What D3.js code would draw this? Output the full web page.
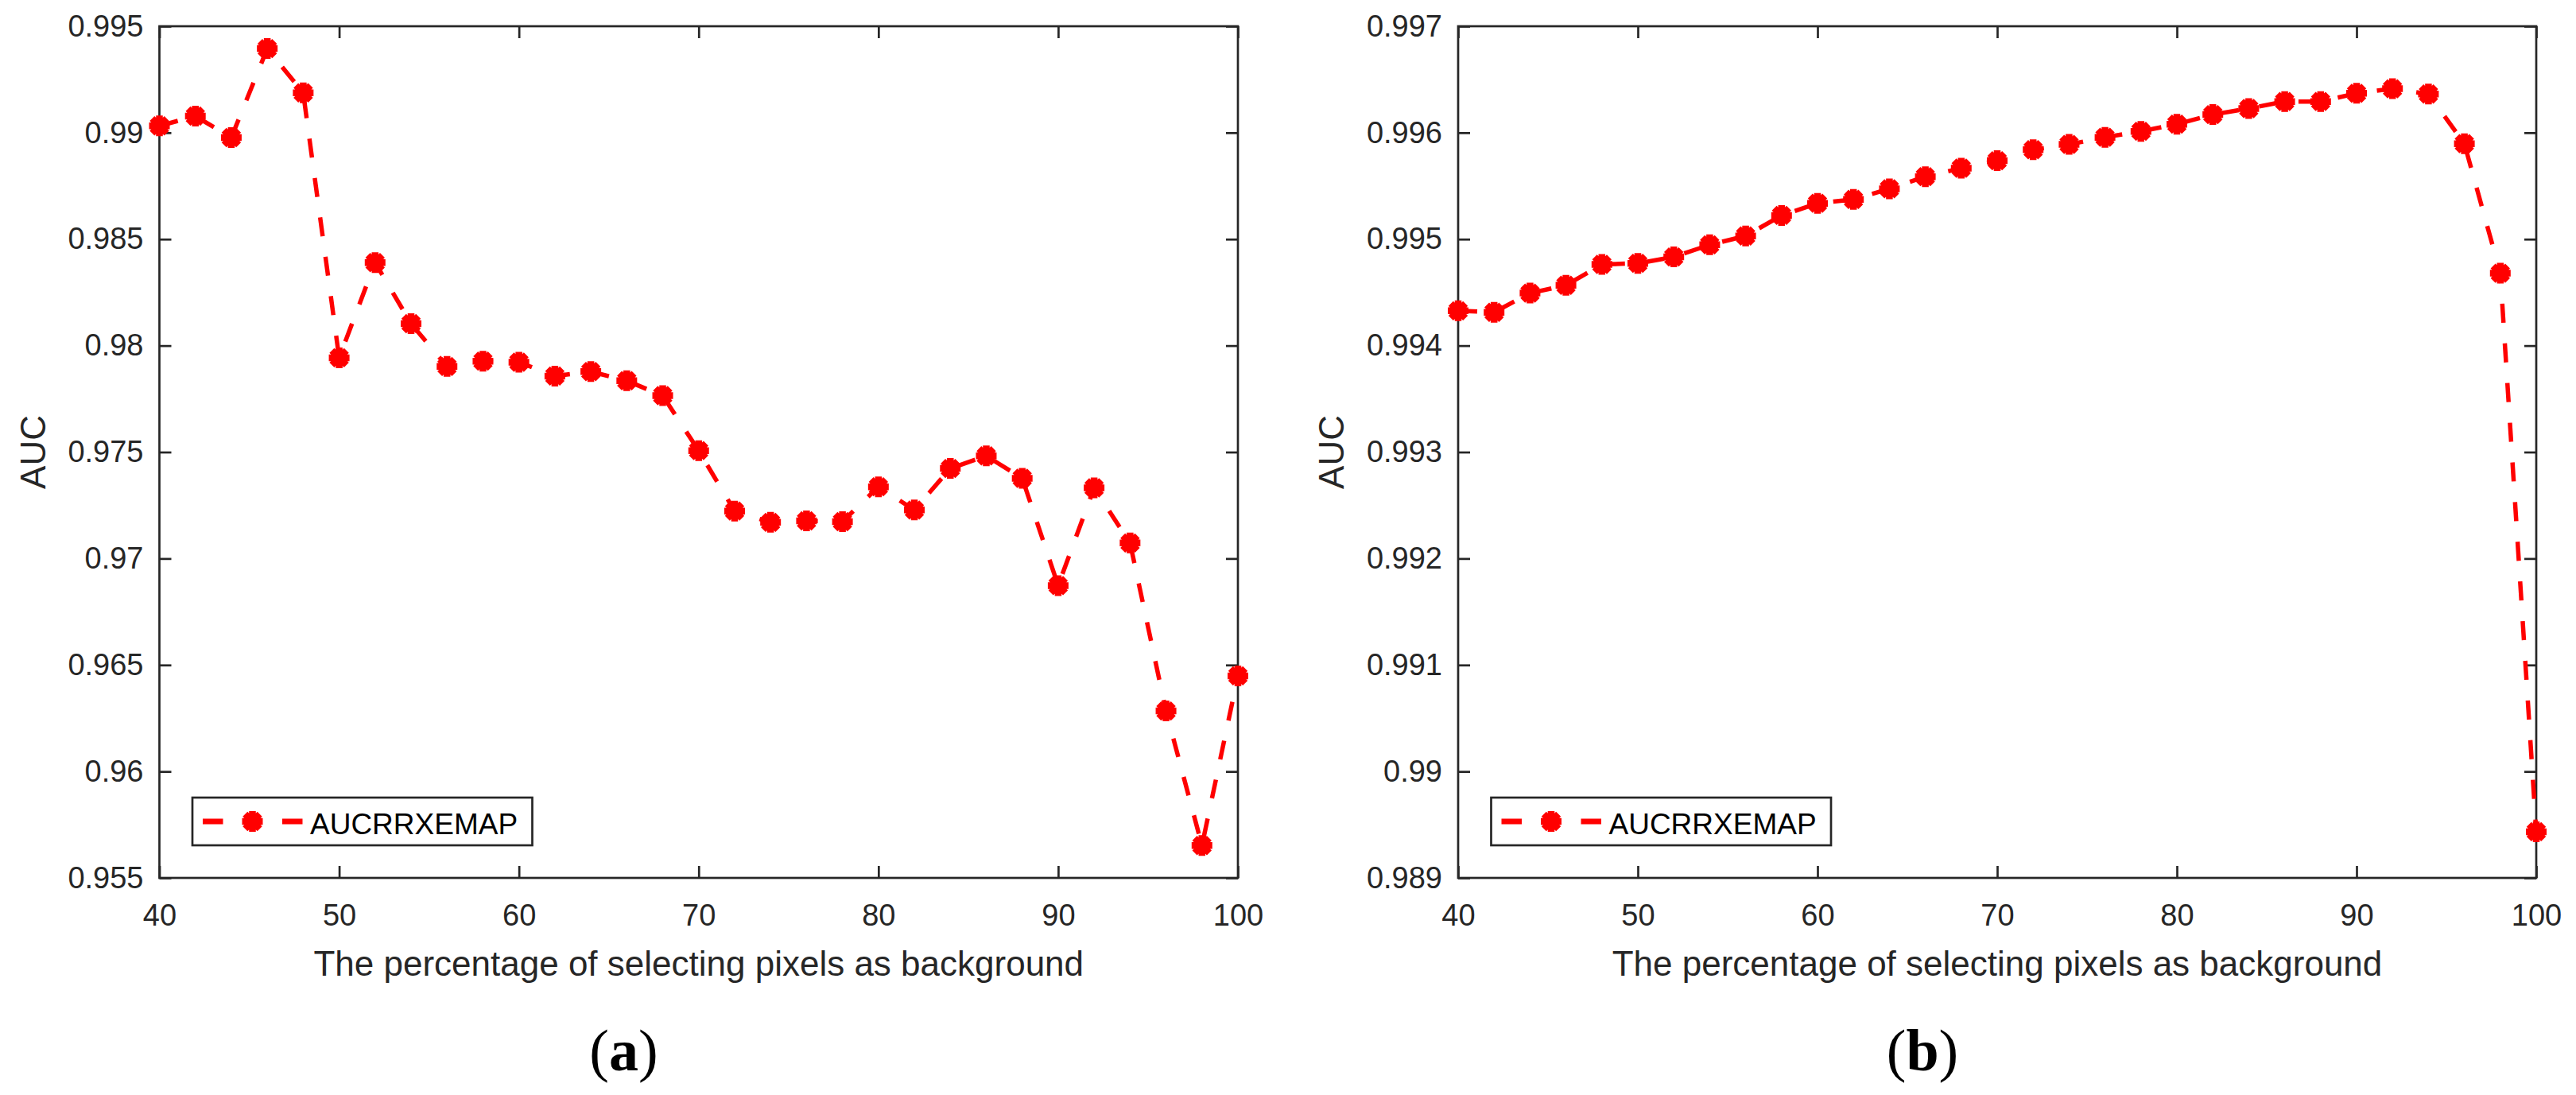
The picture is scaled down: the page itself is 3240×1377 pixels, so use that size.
<!DOCTYPE html>
<html>
<head>
<meta charset="utf-8">
<script src="https://cdn.jsdelivr.net/npm/d3@7"></script>
<style>
  html, body { margin: 0; padding: 0; background: #fff; }
  svg { display: block; }
</style>
</head>
<body>
<svg id="chart" width="3240" height="1377"></svg>
<script>
// ---------------- data ----------------
const percentages = [40,42,44,46,48,50,52,54,56,58,60,62,64,66,68,70,72,74,76,78,80,82,84,86,88,90,92,94,96,98,100];

const aucA = [0.99032,0.99078,0.98977,0.99395,0.99187,0.97943,0.98390,0.98103,0.97902,0.97927,
              0.97922,0.97857,0.97878,0.97835,0.97765,0.97507,0.97223,0.97170,0.97177,0.97173,
              0.97337,0.97228,0.97423,0.97482,0.97377,0.96873,0.97332,0.97073,0.96284,0.95652,0.96449];

const aucB = [0.994327,0.994313,0.994493,0.994567,0.994763,0.994773,0.994833,0.994947,0.995030,0.995223,
              0.995337,0.995373,0.995473,0.995587,0.995667,0.995737,0.995840,0.995890,0.995957,0.996013,
              0.996080,0.996170,0.996227,0.996293,0.996293,0.996370,0.996413,0.996363,0.995897,0.994680,0.989434];

const xTicks = [40,50,60,70,80,90,100];
const yTicksA = [0.955,0.96,0.965,0.97,0.975,0.98,0.985,0.99,0.995];
const yTicksB = [0.989,0.99,0.991,0.992,0.993,0.994,0.995,0.996,0.997];
const xDomain = [40,100];
const yDomainA = [0.955,0.995];
const yDomainB = [0.989,0.997];

const seriesName = "AUCRRXEMAP";
const xTitle = "The percentage of selecting pixels as background";
const yTitle = "AUC";
const panelLabels = ["a","b"];

// ---------------- drawing ----------------
const svg = d3.select("#chart");
svg.append("rect").attr("width",3240).attr("height",1377).attr("fill","#fff");

const AX = "#262626";
const RED = "#ff0000";
const FONT = "'Liberation Sans', Arial, Helvetica, sans-serif";

function asterisk(g, x, y) {
  const r = 13;
  const d = [];
  for (let k = 0; k < 4; k++) {
    const a = k * Math.PI / 4;
    const dx = r * Math.cos(a), dy = r * Math.sin(a);
    d.push(`M${x-dx},${y-dy}L${x+dx},${y+dy}`);
  }
  g.append("path").attr("d", d.join("")).attr("stroke", RED)
    .attr("stroke-width", 8.5).attr("fill", "none");
}

function panel(opts) {
  const {left, right, top, bottom, yDomain, yTicks, values, label} = opts;
  const x = d3.scaleLinear().domain(xDomain).range([left, right]);
  const y = d3.scaleLinear().domain(yDomain).range([bottom, top]);
  const g = svg.append("g");

  // axes
  const styleAxis = sel => {
    sel.select(".domain").remove();
    sel.selectAll(".tick line").attr("stroke", AX).attr("stroke-width", 2.7);
    sel.selectAll(".tick text").attr("fill", AX).attr("font-family", FONT).attr("font-size", 38);
  };
  g.append("g").attr("transform", `translate(0,${bottom})`)
    .call(d3.axisBottom(x).tickValues(xTicks).tickSize(-15).tickPadding(33).tickFormat(d => String(d)))
    .call(styleAxis);
  g.append("g").attr("transform", `translate(0,${top})`)
    .call(d3.axisTop(x).tickValues(xTicks).tickSize(-15).tickFormat(""))
    .call(styleAxis);
  g.append("g").attr("transform", `translate(${left},0)`)
    .call(d3.axisLeft(y).tickValues(yTicks).tickSize(-15).tickPadding(20).tickFormat(d => String(d)))
    .call(styleAxis);
  g.append("g").attr("transform", `translate(${right},0)`)
    .call(d3.axisRight(y).tickValues(yTicks).tickSize(-15).tickFormat(""))
    .call(styleAxis);

  g.append("rect").attr("x", left).attr("y", top).attr("width", right-left).attr("height", bottom-top)
    .attr("fill", "none").attr("stroke", AX).attr("stroke-width", 2.7);

  // line
  const pts = percentages.map((p,i) => [p, values[i]]);
  const line = d3.line().x(d => x(d[0])).y(d => y(d[1])).curve(d3.curveLinear);
  g.append("path").datum(pts).attr("d", line).attr("fill","none")
    .attr("stroke", RED).attr("stroke-width", 5.5).attr("stroke-dasharray", "24,26");
  const mk = g.append("g");
  pts.forEach(d => asterisk(mk, x(d[0]), y(d[1])));

  // axis titles
  g.append("text").attr("x", (left+right)/2).attr("y", 1227).attr("text-anchor","middle")
    .attr("font-family", FONT).attr("font-size", 44).attr("fill", AX).text(xTitle);
  g.append("text").attr("transform", `translate(${left-144},${(top+bottom)/2}) rotate(-90)`)
    .attr("text-anchor","middle").attr("font-family", FONT).attr("font-size", 44).attr("fill", AX).text(yTitle);

  // legend
  const lx = left + 41.5, ly = 1003, lw = 427.5, lh = 60;
  const lg = g.append("g");
  lg.append("rect").attr("x", lx).attr("y", ly).attr("width", lw).attr("height", lh)
    .attr("fill", "#fff").attr("stroke", AX).attr("stroke-width", 2.7);
  const cy = ly + 30;
  lg.append("line").attr("x1", lx+13).attr("x2", lx+138.5).attr("y1", cy).attr("y2", cy)
    .attr("stroke", RED).attr("stroke-width", 7).attr("stroke-dasharray", "25.5,74.5");
  asterisk(lg, lx+75.5, cy);
  lg.append("text").attr("x", lx+148).attr("y", ly+45.7).attr("font-family", FONT)
    .attr("font-size", 37).attr("fill", "#000").text(seriesName);

  // panel label
  const t = g.append("text").attr("x", left+584).attr("y", 1346).attr("text-anchor","middle")
    .attr("font-family", "'Liberation Serif', 'Times New Roman', serif").attr("font-size", 74).attr("fill","#000");
  t.append("tspan").text("(");
  t.append("tspan").attr("font-weight","bold").text(label);
  t.append("tspan").text(")");
}

panel({left: 200.5, right: 1557, top: 33, bottom: 1104, yDomain: yDomainA, yTicks: yTicksA, values: aucA, label: panelLabels[0]});
panel({left: 1834, right: 3190, top: 33, bottom: 1104, yDomain: yDomainB, yTicks: yTicksB, values: aucB, label: panelLabels[1]});
</script>
</body>
</html>
